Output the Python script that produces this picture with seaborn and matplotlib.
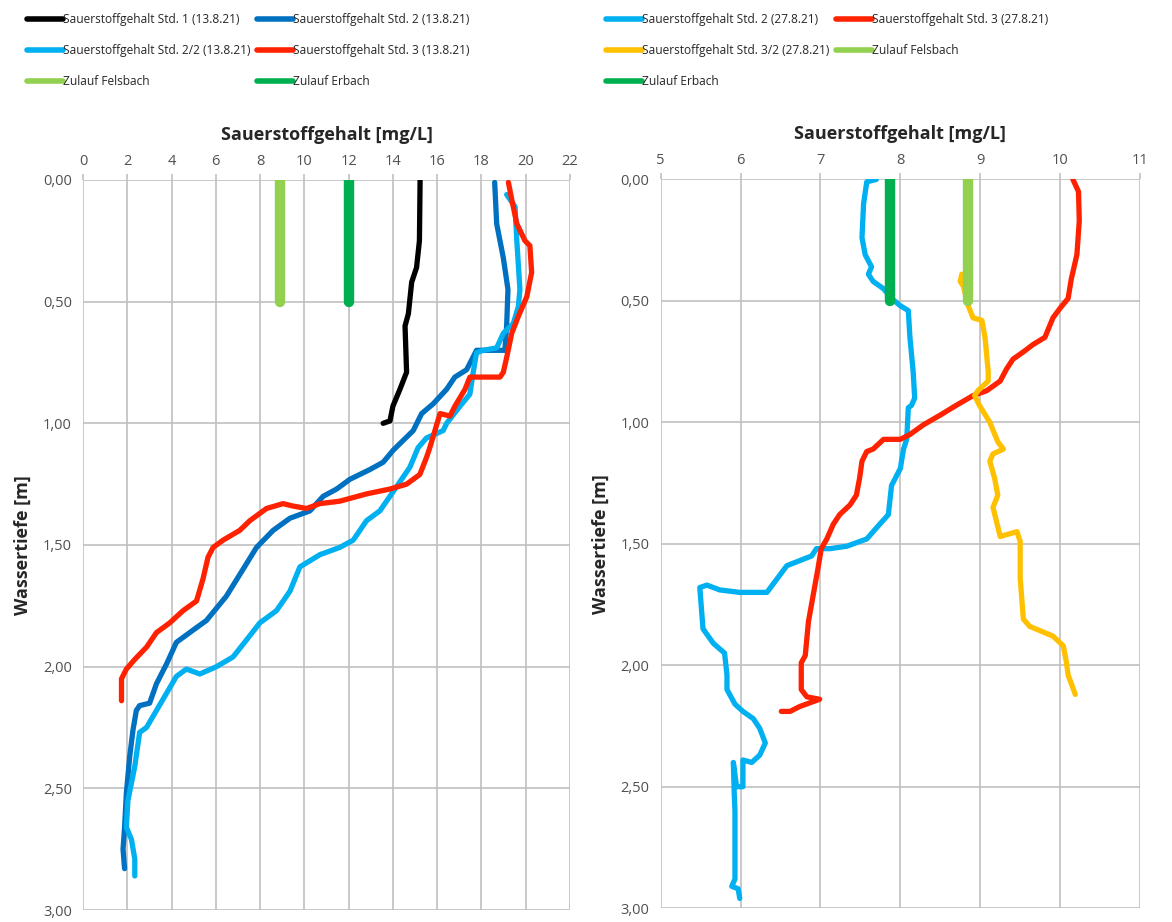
import matplotlib
matplotlib.use("Agg")
import matplotlib.pyplot as plt
import pandas as pd
import seaborn as sns
from matplotlib.lines import Line2D
from matplotlib.ticker import FuncFormatter, MultipleLocator

# ---- 13.8.21 (left panel): oxygen [mg/L] vs. depth [m]
std1_0813_o2 = [15.23, 15.2, 15.07, 14.85, 14.7, 14.55, 14.62, 14.32, 14.0, 13.87, 13.56]
std1_0813_depth = [0.0, 0.25, 0.36, 0.42, 0.55, 0.60, 0.79, 0.86, 0.93, 0.99, 1.0]

std2_0813_o2 = [18.6, 18.69, 18.99, 19.2, 19.14, 19.06, 18.39, 17.78, 17.33, 16.8, 16.43,
                15.82, 15.3, 14.92, 14.02, 13.56, 12.96, 12.06, 11.46, 10.85, 10.25, 9.35,
                8.59, 7.84, 7.23, 6.48, 5.58, 4.97, 4.22, 3.77, 3.32, 3.01, 2.56, 2.41,
                2.26, 2.11, 1.96, 1.88, 1.81, 1.88]
std2_0813_depth = [0.01, 0.18, 0.32, 0.45, 0.60, 0.70, 0.70, 0.70, 0.78, 0.81, 0.86,
                   0.92, 0.96, 1.03, 1.11, 1.16, 1.19, 1.23, 1.27, 1.30, 1.36, 1.39,
                   1.44, 1.51, 1.60, 1.71, 1.81, 1.85, 1.90, 1.99, 2.07, 2.15, 2.16, 2.18,
                   2.26, 2.37, 2.52, 2.66, 2.75, 2.83]

std22_0813_o2 = [19.14, 19.52, 19.6, 19.74, 19.67, 19.44, 18.99, 18.69, 18.08, 17.78, 17.63,
                 17.48, 17.03, 16.43, 16.27, 15.52, 15.14, 14.77, 14.17, 13.41, 12.81, 12.21,
                 11.6, 10.7, 9.8, 9.35, 8.74, 7.99, 7.39, 6.78, 6.03, 5.28, 4.67, 4.22,
                 3.77, 3.32, 2.87, 2.56, 2.34, 2.03, 1.96, 2.19, 2.34, 2.34]
std22_0813_depth = [0.06, 0.11, 0.25, 0.45, 0.52, 0.59, 0.63, 0.69, 0.70, 0.71, 0.79,
                    0.88, 0.93, 1.0, 1.03, 1.06, 1.10, 1.18, 1.26, 1.36, 1.40, 1.48,
                    1.51, 1.54, 1.59, 1.69, 1.77, 1.82, 1.89, 1.96, 2.0, 2.03, 2.01, 2.04,
                    2.11, 2.18, 2.25, 2.27, 2.41, 2.55, 2.66, 2.71, 2.79, 2.86]

std3_0813_o2 = [19.22, 19.37, 19.6, 19.97, 20.19, 20.27, 20.05, 19.67, 19.37, 19.14, 18.99,
                18.84, 18.24, 17.48, 17.26, 16.8, 16.58, 16.13, 15.9, 15.67, 15.52, 15.22,
                14.62, 13.87, 12.81, 11.6, 10.7, 10.1, 9.49, 9.04, 8.29, 7.54, 7.08, 6.33,
                5.88, 5.65, 5.42, 5.13, 4.52, 3.92, 3.32, 2.87, 2.34, 1.96, 1.74, 1.74]
std3_0813_depth = [0.01, 0.08, 0.18, 0.25, 0.27, 0.38, 0.48, 0.56, 0.63, 0.73, 0.79,
                   0.81, 0.81, 0.81, 0.86, 0.93, 0.97, 0.96, 1.03, 1.10, 1.14, 1.21,
                   1.25, 1.27, 1.29, 1.32, 1.33, 1.35, 1.34, 1.33, 1.35, 1.40, 1.44, 1.48,
                   1.51, 1.55, 1.64, 1.73, 1.77, 1.82, 1.86, 1.92, 1.97, 2.01, 2.05, 2.14]

felsbach_0813_o2 = [8.9, 8.9]
erbach_0813_o2 = [12.0, 12.0]
inflow_depth = [0.0, 0.5]

# ---- 27.8.21 (right panel)
std2_0827_o2 = [7.70, 7.58, 7.54, 7.52, 7.56, 7.64, 7.60, 7.66, 7.79, 7.89, 8.0, 8.10,
                8.12, 8.16, 8.18, 8.14, 8.10, 8.08, 8.04, 8.0, 7.89, 7.85, 7.74, 7.58,
                7.33, 7.12, 6.95, 6.89, 6.58, 6.33, 6.16, 5.99, 5.74, 5.58, 5.49, 5.53,
                5.66, 5.80, 5.83, 5.83, 5.93, 6.03, 6.16, 6.24, 6.31, 6.24, 6.14, 6.03,
                6.03, 5.95, 5.91, 5.92, 5.93, 5.93, 5.89, 5.97, 5.99]
std2_0827_depth = [0.0, 0.01, 0.10, 0.24, 0.31, 0.36, 0.39, 0.42, 0.45, 0.49, 0.52, 0.54,
                   0.65, 0.79, 0.90, 0.93, 0.94, 1.07, 1.11, 1.19, 1.26, 1.38, 1.42, 1.48,
                   1.51, 1.52, 1.52, 1.55, 1.59, 1.70, 1.70, 1.70, 1.69, 1.67, 1.68, 1.85,
                   1.91, 1.95, 2.04, 2.10, 2.16, 2.19, 2.22, 2.26, 2.32, 2.37, 2.40, 2.39,
                   2.50, 2.50, 2.40, 2.52, 2.60, 2.88, 2.91, 2.92, 2.96]

std3_0827_o2 = [10.16, 10.23, 10.24, 10.21, 10.14, 10.10, 10.0, 9.91, 9.81, 9.66, 9.54,
                9.41, 9.33, 9.25, 9.08, 8.91, 8.70, 8.50, 8.29, 8.12, 8.0, 7.79, 7.66,
                7.58, 7.52, 7.49, 7.45, 7.37, 7.24, 7.16, 7.08, 7.01, 6.97, 6.91, 6.85,
                6.81, 6.76, 6.76, 6.83, 6.99, 6.74, 6.62, 6.51]
std3_0827_depth = [0.0, 0.05, 0.17, 0.31, 0.41, 0.49, 0.53, 0.57, 0.65, 0.68, 0.71,
                   0.74, 0.78, 0.83, 0.87, 0.89, 0.93, 0.97, 1.01, 1.05, 1.07, 1.07, 1.11,
                   1.12, 1.16, 1.23, 1.30, 1.34, 1.38, 1.42, 1.48, 1.52, 1.60, 1.71, 1.82,
                   1.96, 1.99, 2.10, 2.13, 2.14, 2.17, 2.19, 2.19]

std32_0827_o2 = [8.77, 8.75, 8.79, 8.85, 8.91, 9.02, 9.06, 9.10, 9.10, 8.97, 8.93, 8.99,
                 9.12, 9.22, 9.29, 9.16, 9.12, 9.18, 9.22, 9.16, 9.25, 9.46, 9.50, 9.50,
                 9.54, 9.62, 9.91, 10.04, 10.08, 10.10, 10.19]
std32_0827_depth = [0.39, 0.42, 0.44, 0.52, 0.57, 0.58, 0.65, 0.79, 0.83, 0.87, 0.89, 0.93,
                    1.0, 1.08, 1.11, 1.13, 1.16, 1.23, 1.30, 1.35, 1.47, 1.45, 1.49, 1.64,
                    1.81, 1.84, 1.88, 1.92, 1.99, 2.04, 2.12]

felsbach_0827_o2 = [8.85, 8.85]
erbach_0827_o2 = [7.87, 7.87]

BLACK = "#000000"
DARKBLUE = "#0070C0"
LIGHTBLUE = "#00B0F0"
RED = "#FF2200"
YELLOW = "#FFC000"
LIGHTGREEN = "#92D050"
GREEN = "#00B050"

left_series = [
    ("Sauerstoffgehalt Std. 1 (13.8.21)", std1_0813_o2, std1_0813_depth, BLACK, 3.8),
    ("Sauerstoffgehalt Std. 2 (13.8.21)", std2_0813_o2, std2_0813_depth, DARKBLUE, 3.8),
    ("Sauerstoffgehalt Std. 2/2 (13.8.21)", std22_0813_o2, std22_0813_depth, LIGHTBLUE, 3.8),
    ("Sauerstoffgehalt Std. 3 (13.8.21)", std3_0813_o2, std3_0813_depth, RED, 3.8),
    ("Zulauf Felsbach", felsbach_0813_o2, inflow_depth, LIGHTGREEN, 7.5),
    ("Zulauf Erbach", erbach_0813_o2, inflow_depth, GREEN, 7.5),
]
right_series = [
    ("Sauerstoffgehalt Std. 2 (27.8.21)", std2_0827_o2, std2_0827_depth, LIGHTBLUE, 3.8),
    ("Sauerstoffgehalt Std. 3 (27.8.21)", std3_0827_o2, std3_0827_depth, RED, 3.8),
    ("Sauerstoffgehalt Std. 3/2 (27.8.21)", std32_0827_o2, std32_0827_depth, YELLOW, 3.8),
    ("Zulauf Felsbach", felsbach_0827_o2, inflow_depth, LIGHTGREEN, 7.5),
    ("Zulauf Erbach", erbach_0827_o2, inflow_depth, GREEN, 7.5),
]

sns.set_theme(style="white")
plt.rcParams["font.family"] = ["Open Sans", "DejaVu Sans"]

fig = plt.figure(figsize=(11.72, 9.22), dpi=100)
ax_l = fig.add_axes([0.0708, 0.013, 0.4155, 0.7918])
ax_r = fig.add_axes([0.5637, 0.015, 0.409, 0.7904])

comma = FuncFormatter(lambda v, p: f"{v:.2f}".replace(".", ","))
GRID = "#C0C0C0"


def draw_panel(ax, series, xlim, xstep):
    handles = []
    for label, o2, depth, color, lw in series:
        df = pd.DataFrame({"o2": o2, "depth": depth})
        sns.lineplot(data=df, x="o2", y="depth", sort=False, estimator=None,
                     color=color, linewidth=lw, solid_capstyle="round",
                     solid_joinstyle="round", ax=ax, zorder=3)
        handles.append(Line2D([], [], color=color, linewidth=4, label=label,
                              solid_capstyle="round"))
    ax.set_xlim(*xlim)
    ax.set_ylim(3.0, 0.0)
    ax.xaxis.set_major_locator(MultipleLocator(xstep))
    ax.yaxis.set_major_locator(MultipleLocator(0.5))
    ax.yaxis.set_major_formatter(comma)
    ax.xaxis.tick_top()
    ax.xaxis.set_label_position("top")
    ax.tick_params(length=4, width=1.2, color=GRID, direction="out",
                   labelsize=10.5, labelcolor="#505050", pad=4)
    ax.grid(True, color=GRID, linewidth=1.2)
    for s in ax.spines.values():
        s.set_visible(False)
    ax.set_xlabel("Sauerstoffgehalt [mg/L]", fontsize=13, fontweight="bold", labelpad=10)
    ax.set_ylabel("Wassertiefe [m]", fontsize=13, fontweight="bold", labelpad=8)
    return handles


h_l = draw_panel(ax_l, left_series, (0, 22), 2)
h_r = draw_panel(ax_r, right_series, (5, 11), 1)

# legends: matplotlib fills columns first, so reorder to get the row layout
order_l = [0, 2, 4, 1, 3, 5]
order_r = [0, 2, 4, 1, 3]
leg_kw = dict(ncol=2, frameon=False, fontsize=8.6, handlelength=3.0, handletextpad=0.0,
              labelspacing=1.5, columnspacing=0.6, borderaxespad=0, borderpad=0)
fig.legend(handles=[h_l[i] for i in order_l], loc="upper left",
           bbox_to_anchor=(0.023, 0.986), **leg_kw)
fig.legend(handles=[h_r[i] for i in order_r], loc="upper left",
           bbox_to_anchor=(0.517, 0.986), **leg_kw)

fig.savefig("out.png", dpi=100)
